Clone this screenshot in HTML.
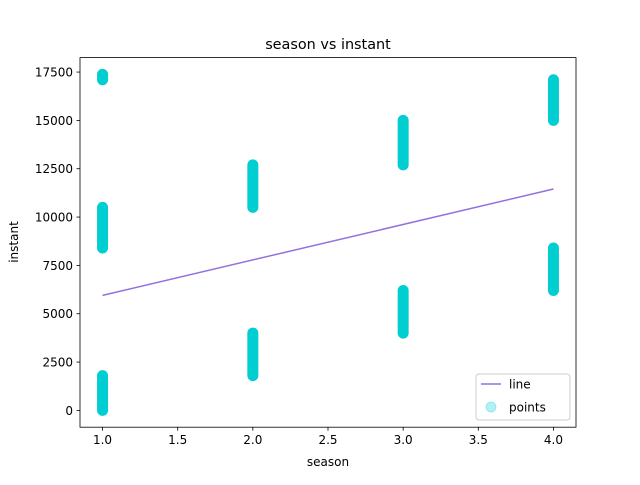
<!DOCTYPE html>
<html><head><meta charset="utf-8"><style>
body{margin:0;background:#fff;}
svg text{font-family:"DejaVu Sans","Liberation Sans",sans-serif;fill:#000;}
</style></head><body>
<svg id="chart" width="640" height="480" viewBox="0 0 640 480">
<rect width="640" height="480" fill="#fff"/>
<g id="plot"></g>
<rect x="80" y="57.6" width="496" height="369.6" fill="none" stroke="#000" stroke-width="0.8"/>
<text x="328" y="49" font-size="14.4" text-anchor="middle">season vs instant</text>
<text x="328" y="466" font-size="12" text-anchor="middle">season</text>
<text x="18" y="242" font-size="12" text-anchor="middle" transform="rotate(-90 18 242)">instant</text>
<g>
<rect x="476" y="374" width="94" height="46" rx="3" fill="#fff" fill-opacity="0.8" stroke="#ccc"/>
<line x1="481" y1="384" x2="501" y2="384" stroke="#9370DB" stroke-width="1.5"/>
<text x="509" y="388.5" font-size="12">line</text>
<circle cx="491" cy="407" r="5" fill="#00CED1" fill-opacity="0.3" stroke="#00CED1" stroke-opacity="0.3"/>
<text x="509" y="411.5" font-size="12">points</text>
</g>
</svg>
<script>
const xTicks=[1.0,1.5,2.0,2.5,3.0,3.5,4.0];
const yTicks=[0,2500,5000,7500,10000,12500,15000,17500];
const clusterSeason=[1,1,1,2,2,3,3,4,4];
const clusterMin=[0,8400,17100,1800,10500,4000,12700,6200,15000];
const clusterMax=[1800,10500,17379,4000,12700,6200,15000,8400,17100];
const lineX=[1,4];
const lineY=[5950,11450];
const X0=0.85,X1=4.15,Y0=-869,Y1=18248;
const L=80,R=576,T=57.6,B=427.2;
const sx=v=>L+(v-X0)/(X1-X0)*(R-L);
const sy=v=>B-(v-Y0)/(Y1-Y0)*(B-T);
const NS="http://www.w3.org/2000/svg";
const g=document.getElementById('plot');
function mk(t,a){const e=document.createElementNS(NS,t);for(const k in a)e.setAttribute(k,a[k]);g.appendChild(e);return e;}
xTicks.forEach(v=>{
 const l=mk('line',{x1:sx(v),x2:sx(v),y1:B,y2:B+3.5,stroke:'#000','stroke-width':0.8});
 
 
 const t=mk('text',{x:sx(v),y:B+17,'font-size':12,'text-anchor':'middle'});t.textContent=v.toFixed(1);
 
 
});
yTicks.forEach(v=>{
 const l=mk('line',{x1:L-3.5,x2:L,y1:sy(v),y2:sy(v),stroke:'#000','stroke-width':0.8});
 
 
 const t=mk('text',{x:L-7,y:sy(v)+4.5,'font-size':12,'text-anchor':'end'});t.textContent=v;
 
 
});
clusterSeason.forEach((s,i)=>{
 const e=mk('line',{x1:sx(s),x2:sx(s),y1:sy(clusterMin[i]),y2:sy(clusterMax[i]),stroke:'#00CED1','stroke-width':11,'stroke-linecap':'round'});
 
 
});
const ln=mk('line',{x1:sx(lineX[0]),y1:sy(lineY[0]),x2:sx(lineX[1]),y2:sy(lineY[1]),stroke:'#9370DB','stroke-width':1.5});


</script>
</body></html>
